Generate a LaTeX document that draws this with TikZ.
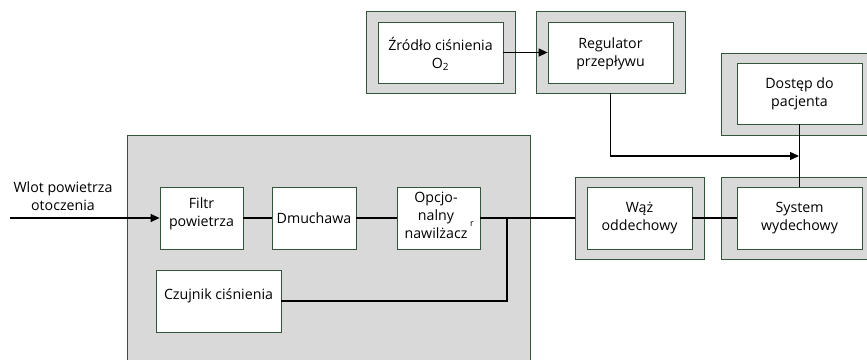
\documentclass[tikz,border=0pt]{standalone}
\usepackage{fontspec}
\setmainfont{Open Sans}
\usetikzlibrary{arrows.meta}
\definecolor{bord}{RGB}{50,85,60}
\definecolor{panel}{RGB}{217,217,217}
\tikzset{
  inner/.style={draw=bord, fill=white, line width=0.8pt, align=center, inner sep=1pt,
    font=\fontsize{14.2}{18}\selectfont},
  outer/.style={draw=bord, fill=panel, line width=0.8pt},
  conn/.style={line width=1.1pt, black},
  arr/.style={line width=1.3pt, black, -{Triangle[length=9pt,width=8pt]}},
  lbl/.style={align=center, font=\fontsize{14.2}{18}\selectfont, inner sep=0pt}
}
\begin{document}
\begin{tikzpicture}[x=1pt,y=-1pt]
\useasboundingbox (0,0) rectangle (867,359);
\clip (0,0) rectangle (867,359);
% big panel
\node[outer, minimum width=403pt, minimum height=240pt, anchor=north west, inner sep=0pt] (panel) at (127,135) {};
% outer frames
\node[outer, minimum width=149pt, minimum height=82pt] (zro) at (440.5,52) {};
\node[outer, minimum width=149pt, minimum height=82pt] (rego) at (610.5,52) {};
\node[outer, minimum width=149pt, minimum height=82pt] (doso) at (795.5,94) {};
\node[outer, minimum width=129pt, minimum height=82pt] (wazo) at (639.5,218) {};
\node[outer, minimum width=149pt, minimum height=82pt] (syso) at (795.5,218) {};
% inner boxes
\node[inner, minimum width=83pt, minimum height=62pt] (filtr) at (201.5,218) {};
\node[lbl] at (201.5,214) {Filtr\\powietrza};
\node[inner, minimum width=84pt, minimum height=62pt] (dmu) at (314,218) {Dmuchawa};
\node[inner, minimum width=83pt, minimum height=62pt] (naw) at (438.5,218) {};
\node[lbl] at (436,215) {Opcjo-\\nalny\\nawilżacz};
\node[lbl, font=\fontsize{9}{10}\selectfont] (rr) at (472,224) {r};
\node[inner, minimum width=125pt, minimum height=62pt] (czu) at (218.5,301) {};
\node[lbl] at (218.5,296) {Czujnik ciśnienia};
\node[inner, minimum width=125pt, minimum height=61pt] (zro) at (440.5,52.5) {};
\node[lbl] at (440.5,54) {Źródło ciśnienia\\O\textsubscript{2}};
\node[inner, minimum width=125pt, minimum height=61pt] (reg) at (610.5,52.5) {};
\node[lbl] at (610.5,54) {Regulator\\przepływu};
\node[inner, minimum width=125pt, minimum height=61pt] (dos) at (799.5,93.5) {Dostęp do\\pacjenta};
\node[inner, minimum width=105pt, minimum height=62pt] (waz) at (639.5,218) {Wąż\\oddechowy};
\node[inner, minimum width=125pt, minimum height=62pt] (sys) at (799.5,218) {System\\wydechowy};
% input
\coordinate (in) at (10,218);
\node[lbl] (inl) at (63,196) {Wlot powietrza\\otoczenia};
\draw[arr] (in) -- (filtr.west);
% chain
\draw[conn] (filtr.east) -- (dmu.west);
\draw[conn] (dmu.east) -- (naw.west);
\draw[conn] (naw.east) -- (wazo.west);
\coordinate (br) at (507,218);
\draw[conn] (br) |- (czu.east);
\draw[conn] (waz.east) -- (sys.west);
\draw[conn] (dos.south) -- (sys.north);
\draw[arr] (zro.east) -- (reg.west);
\coordinate (jn) at (799,156);
\draw[arr] (rego.south) |- (jn);
\end{tikzpicture}
\end{document}
